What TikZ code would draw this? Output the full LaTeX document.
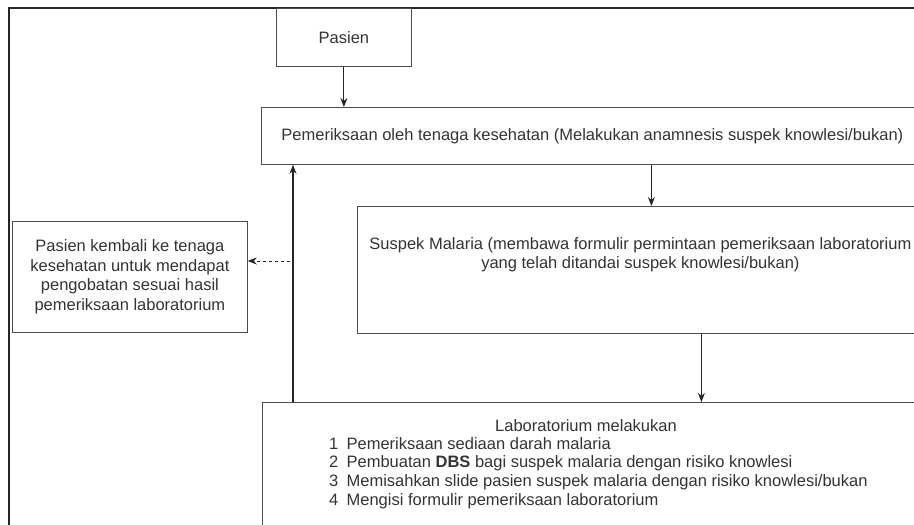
\documentclass[tikz,border=0pt]{standalone}
\usepackage{fontspec}
\setmainfont{Liberation Sans}
\usetikzlibrary{arrows.meta, positioning}

\begin{document}
\begin{tikzpicture}[x=1pt, y=-1pt, every node/.style={font=\fontsize{16.5}{19.5}\selectfont, text=black!80}]
\tikzstyle{box} = [rectangle, draw=black!70, line width=0.8pt, anchor=north west, inner sep=0pt, text centered, align=center]
\tikzstyle{arrow} = [line width=1.1pt, draw=black!85, -{Stealth[length=9pt, width=7pt]}]
\tikzstyle{dasharrow} = [line width=1pt, draw=black!85, dash pattern=on 3pt off 3pt, -{Stealth[length=9pt, width=7pt]}]
\useasboundingbox (0,0) rectangle (914,525);

% outer frame (cut by the page)
\draw [line width=1.2pt, black!85] (9,540) -- (9,8) -- (930,8);

% boxes
\node (pasien) [box, minimum width=135, minimum height=58] at (276,8) {Pasien};
\node (periksa) [box, minimum width=662, minimum height=57] at (261,107) {Pemeriksaan oleh tenaga kesehatan (Melakukan anamnesis suspek knowlesi/bukan)};
\node (suspek) [box, minimum width=566, minimum height=127] at (357,206) {Suspek Malaria (membawa formulir permintaan pemeriksaan laboratorium\\yang telah ditandai suspek knowlesi/bukan)\\[14pt]};
\node (kembali) [box, minimum width=235, minimum height=111] at (12,221) {Pasien kembali ke tenaga\\kesehatan untuk mendapat\\pengobatan sesuai hasil\\pemeriksaan laboratorium};
\node (lab) [box, minimum width=670, minimum height=140] at (262,402) {};
\node (labtitle) at (586,426) {Laboratorium melakukan};
\node (lablist) [anchor=north west, align=left, inner sep=0pt, font=\fontsize{16.5}{18.7}\selectfont] at (329,437) {1\enspace Pemeriksaan sediaan darah malaria\\2\enspace Pembuatan \textbf{DBS} bagi suspek malaria dengan risiko knowlesi\\3\enspace Memisahkan slide pasien suspek malaria dengan risiko knowlesi/bukan\\4\enspace Mengisi formulir pemeriksaan laboratorium};

% down the chain
\draw [arrow] (pasien) -- (pasien |- periksa.north);
\draw [arrow] ([xshift=11pt]suspek.north |- periksa.south) -- ([xshift=11pt]suspek.north);
\draw [arrow] ([xshift=61pt]suspek.south) -- ([xshift=61pt]suspek.south |- lab.north);

% back up, and out to the patient
\coordinate (split) at (293,261);
\draw [arrow] ([xshift=31pt]lab.north west) -- ([xshift=31pt]lab.north west |- periksa.south);
\draw [dasharrow] ([xshift=-3pt]split) -- (split -| kembali.east);

\end{tikzpicture}
\end{document}
